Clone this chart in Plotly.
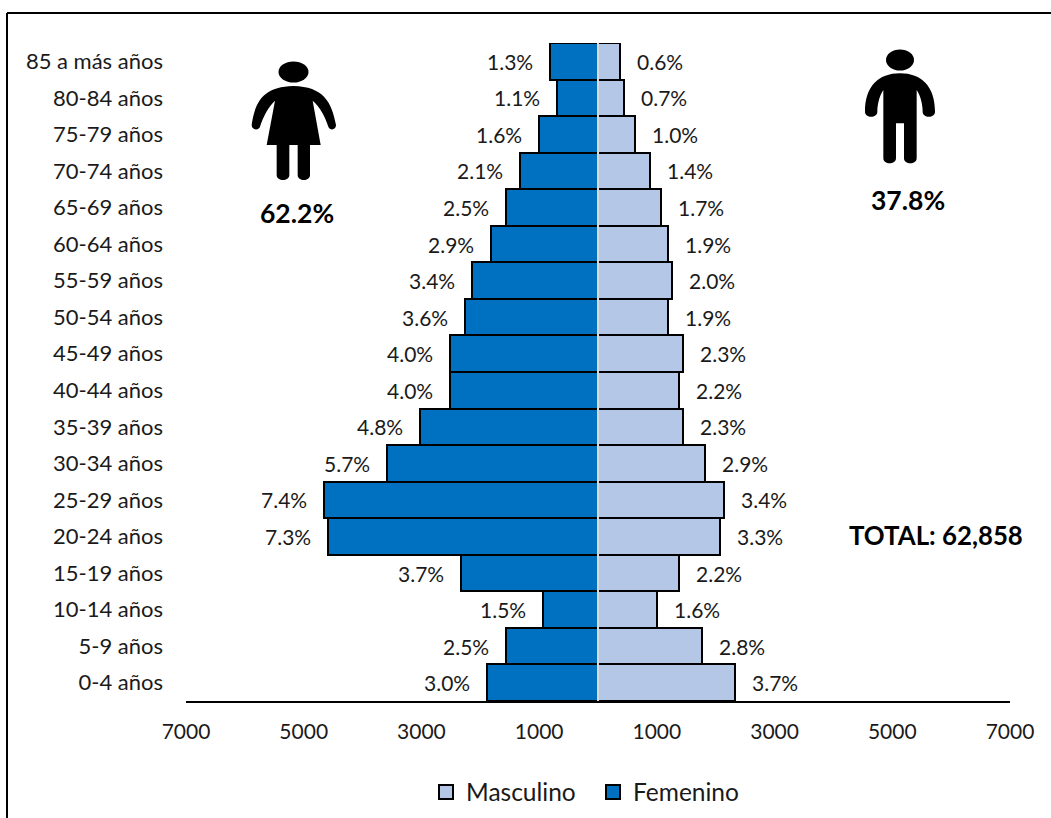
import plotly.graph_objects as go

TOTAL = 62858
age_groups = ["0-4 años", "5-9 años", "10-14 años", "15-19 años", "20-24 años", "25-29 años",
              "30-34 años", "35-39 años", "40-44 años", "45-49 años", "50-54 años", "55-59 años",
              "60-64 años", "65-69 años", "70-74 años", "75-79 años", "80-84 años", "85 a más años"]
pct_female = [3.0, 2.5, 1.5, 3.7, 7.3, 7.4, 5.7, 4.8, 4.0, 4.0, 3.6, 3.4, 2.9, 2.5, 2.1, 1.6, 1.1, 1.3]
pct_male = [3.7, 2.8, 1.6, 2.2, 3.3, 3.4, 2.9, 2.3, 2.2, 2.3, 1.9, 2.0, 1.9, 1.7, 1.4, 1.0, 0.7, 0.6]
tick_values = [-7000, -5000, -3000, -1000, 1000, 3000, 5000, 7000]
tick_labels = ["7000", "5000", "3000", "1000", "1000", "3000", "5000", "7000"]

FONT = "Lato, Carlito, Calibri, sans-serif"
W, H = 1051, 818
FEMALE = "#0070C0"
MALE = "#B4C7E7"
INK = "#1a1a1a"

female = [-p / 100 * TOTAL for p in pct_female]
male = [p / 100 * TOTAL for p in pct_male]


def px(x):
    return x / W


def py(y):
    return 1 - y / H


def icon(ox, oy, cmds):
    # Pictogram outline drawn on a 3x grid, placed with its origin at (ox, oy) on the page.
    parts = []
    for cmd in cmds:
        letter, nums = cmd[0], cmd[1:]
        pts = [f"{px(ox + nums[i] / 3):.5f},{py(oy + nums[i + 1] / 3):.5f}" for i in range(0, len(nums), 2)]
        parts.append(letter + " ".join(pts))
    return dict(type="path", xref="paper", yref="paper", path=" ".join(parts),
                fillcolor="black", line_width=0, layer="above")


def head(cx, cy, rx, ry):
    return dict(type="circle", xref="paper", yref="paper", x0=px(cx - rx), x1=px(cx + rx),
                y0=py(cy + ry), y1=py(cy - ry), fillcolor="black", line_width=0, layer="above")


woman = [
    ("M", 65, 285), ("C", 75, 215, 100, 170, 190, 168), ("C", 280, 170, 305, 215, 318, 285),
    ("C", 318, 300, 300, 303, 295, 290), ("C", 285, 260, 270, 230, 248, 212), ("L", 272, 345),
    ("L", 240, 345), ("L", 240, 435), ("C", 240, 455, 203, 455, 203, 435), ("L", 203, 345),
    ("L", 178, 345), ("L", 178, 435), ("C", 178, 455, 140, 455, 140, 435), ("L", 140, 345),
    ("L", 110, 345), ("L", 135, 212), ("C", 115, 230, 100, 260, 90, 290),
    ("C", 85, 303, 65, 300, 65, 285), ("Z",),
]
man = [
    ("M", 45, 245), ("C", 45, 170, 85, 130, 150, 130), ("C", 215, 130, 255, 170, 255, 245),
    ("C", 255, 265, 218, 265, 218, 245), ("C", 218, 220, 210, 195, 200, 180), ("L", 200, 385),
    ("C", 200, 405, 162, 405, 162, 385), ("L", 162, 280), ("L", 138, 280), ("L", 138, 385),
    ("C", 138, 405, 100, 405, 100, 385), ("L", 100, 180), ("C", 90, 195, 82, 220, 82, 245),
    ("C", 82, 265, 45, 265, 45, 245), ("Z",),
]

fig = go.Figure()
fig.add_bar(y=age_groups, x=male, name="Masculino", orientation="h", width=1, showlegend=False,
            marker=dict(color=MALE, line=dict(color="black", width=2)), hoverinfo="skip")
fig.add_bar(y=age_groups, x=female, name="Femenino", orientation="h", width=1, showlegend=False,
            marker=dict(color=FEMALE, line=dict(color="black", width=2)), hoverinfo="skip")
# Legend keys with a larger square than the bar traces provide
for name, colour in [("Masculino", MALE), ("Femenino", FEMALE)]:
    fig.add_scatter(x=[None], y=[None], name=name, mode="markers",
                    marker=dict(symbol="square", size=14, color=colour, line=dict(color="black", width=2)))

annotations = []
for cat, v, p in zip(age_groups, female, pct_female):
    annotations.append(dict(x=v, y=cat, text=f"{p:.1f}%", showarrow=False, xanchor="right",
                            xshift=-15, yshift=0, font=dict(size=21, color=INK, family=FONT)))
for cat, v, p in zip(age_groups, male, pct_male):
    annotations.append(dict(x=v, y=cat, text=f"{p:.1f}%", showarrow=False, xanchor="left",
                            xshift=15, yshift=0, font=dict(size=21, color=INK, family=FONT)))
for text, x, y, size in [("62.2%", 297, 213, 26.5), ("37.8%", 908, 200, 26.5), ("TOTAL: 62,858", 936, 535, 25.8)]:
    annotations.append(dict(xref="paper", yref="paper", x=px(x), y=py(y), text=f"<b>{text}</b>",
                            xanchor="center", yanchor="middle", showarrow=False,
                            font=dict(size=size, color="black", family=FONT)))

shapes = [
    # top and left rules of the frame
    dict(type="line", xref="paper", yref="paper", x0=px(7), x1=1, y0=py(13), y1=py(13),
         line=dict(color="black", width=2)),
    dict(type="line", xref="paper", yref="paper", x0=px(7), x1=px(7), y0=0, y1=py(13),
         line=dict(color="black", width=2)),
    # centre divider between the two sides
    dict(type="line", xref="x", yref="y domain", x0=0, x1=0, y0=0, y1=1,
         line=dict(color="#D9D9D9", width=2), layer="above"),
    head(293.5, 72, 15, 10.5), icon(230, 30, woman),
    head(900, 60, 14, 10.5), icon(850, 30, man),
]

fig.update_layout(
    width=W, height=H, margin=dict(l=0, r=0, t=0, b=0, pad=0, autoexpand=False),
    barmode="overlay", bargap=0, paper_bgcolor="white", plot_bgcolor="white",
    font=dict(family=FONT, size=21, color=INK),
    annotations=annotations, shapes=shapes,
    legend=dict(orientation="h", x=px(426), xanchor="left", y=py(792), yanchor="middle",
                traceorder="normal", font=dict(size=24.5), itemwidth=30,
                entrywidth=122, entrywidthmode="pixels", bgcolor="rgba(0,0,0,0)"),
    xaxis=dict(domain=[186 / W, 1010 / W], range=[-7000, 7000], tickvals=tick_values, ticktext=tick_labels,
               showgrid=False, zeroline=False, showline=True, linecolor="black", linewidth=2, ticks="",
               ticklabelstandoff=11, tickfont=dict(size=21), automargin=False),
    yaxis=dict(domain=[117 / H, 1 - 43 / H], type="category", categoryorder="array", categoryarray=age_groups,
               showgrid=False, zeroline=False, showline=False, ticks="", ticklabelstandoff=22,
               tickfont=dict(size=22), automargin=False),
)
fig.write_html("out.html")
